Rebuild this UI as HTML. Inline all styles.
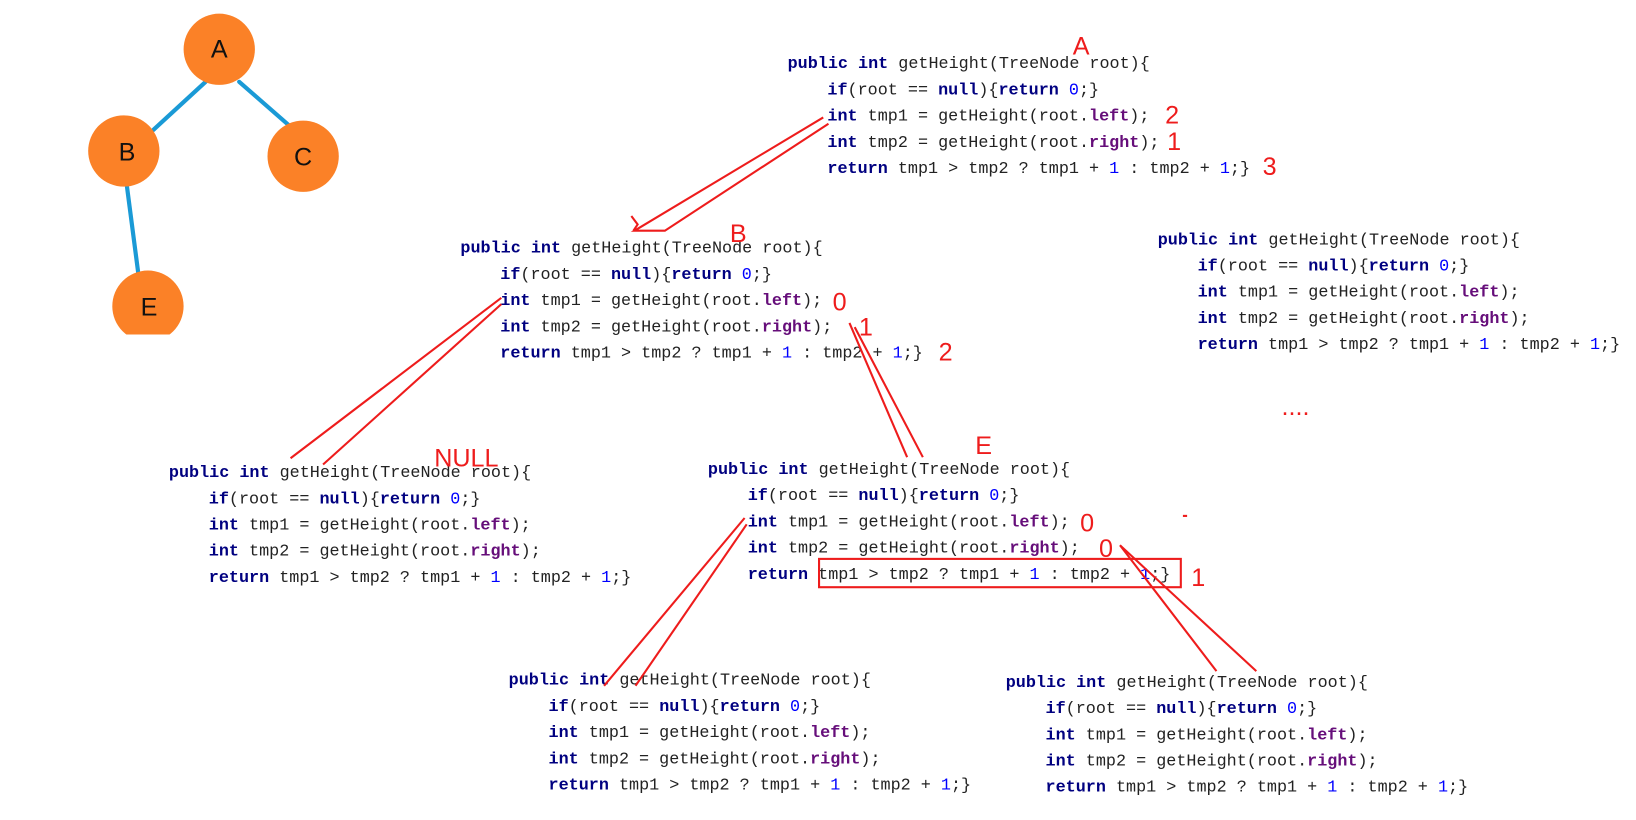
<!DOCTYPE html>
<html><head><meta charset="utf-8"><style>
html,body{margin:0;padding:0;background:#fff;}
svg{display:block}
.c{font-family:"Liberation Mono","Noto Serif CJK SC",monospace;font-size:16px;fill:#222;white-space:pre}
.k{fill:#000080;font-weight:bold}
.p{fill:#660e7a;font-weight:bold}
.n{fill:#0000ff}
.r{font-family:"Liberation Sans",sans-serif;fill:#ee1c1c;font-size:24px}
.l{stroke:#ee1c1c;stroke-width:2;fill:none}
</style></head><body>
<svg width="1636" height="820" viewBox="0 0 1560 782" xmlns="http://www.w3.org/2000/svg">
<defs>
<g id="code">
<text class="c" x="0" y="6" xml:space="preserve"><tspan class="k">public int</tspan> getHeight(TreeNode root){</text>
<text class="c" x="38" y="31" xml:space="preserve"><tspan class="k">if</tspan>(root == <tspan class="k">null</tspan>){<tspan class="k">return</tspan> <tspan class="n">0</tspan>;}</text>
<text class="c" x="38" y="56" xml:space="preserve"><tspan class="k">int</tspan> tmp1 = getHeight(root.<tspan class="p">left</tspan>);</text>
<text class="c" x="38" y="81" xml:space="preserve"><tspan class="k">int</tspan> tmp2 = getHeight(root.<tspan class="p">right</tspan>);</text>
<text class="c" x="38" y="106" xml:space="preserve"><tspan class="k">return</tspan> tmp1 &gt; tmp2 ? tmp1 + <tspan class="n">1</tspan> : tmp2 + <tspan class="n">1</tspan>;}</text>
</g>
</defs>
<!-- tree -->
<g stroke="#1a9ad6" stroke-width="4" stroke-linecap="round">
<line x1="196" y1="78" x2="146" y2="124"/>
<line x1="228" y1="78" x2="276" y2="120"/>
<line x1="121" y1="178" x2="133" y2="270"/>
</g>
<g fill="#fb8127">
<circle cx="209" cy="47" r="34"/>
<circle cx="118" cy="144" r="34"/>
<circle cx="289" cy="149" r="34"/>
<circle cx="141" cy="292" r="34"/>
</g>
<rect x="100" y="319" width="90" height="20" fill="#fff"/>
<g font-family="Liberation Sans,sans-serif" font-size="24" fill="#111" text-anchor="middle">
<text x="209" y="55">A</text><text x="121" y="153">B</text><text x="289" y="158">C</text><text x="142" y="301">E</text>
</g>
<!-- code blocks -->
<use href="#code" x="751" y="59"/>
<use href="#code" x="439" y="235"/>
<use href="#code" x="1104" y="227"/>
<use href="#code" x="161" y="449"/>
<use href="#code" x="675" y="446"/>
<use href="#code" x="485" y="647"/>
<use href="#code" x="959" y="649"/>
<!-- red annotations -->
<text class="r" x="1023" y="52">A</text>
<text class="r" x="1111" y="118">2</text>
<text class="r" x="1113" y="143">1</text>
<text class="r" x="1204" y="167">3</text>
<text class="r" x="696" y="231">B</text>
<text class="r" x="794" y="296">0</text>
<text class="r" x="819" y="320">1</text>
<text class="r" x="895" y="344">2</text>
<text class="r" x="414" y="445">NULL</text>
<text class="r" x="930" y="433">E</text>
<text class="r" x="1030" y="507">0</text>
<text class="r" x="1048" y="531">0</text>
<text class="r" x="1136" y="559">1</text>
<text class="r" x="1222" y="396">....</text>
<rect x="1128" y="491" width="4" height="2" fill="#ee1c1c"/>
<rect x="781" y="533" width="345" height="27" class="l" stroke-width="2.5"/>
<polyline class="l" points="785,112 605,220 634,220 790,118"/>
<polyline class="l" points="602,206 608,214 604,220"/>
<polyline class="l" points="478,284 277,437"/>
<polyline class="l" points="478,290 308,443"/>
<polyline class="l" points="810,308 865,436"/>
<polyline class="l" points="815,312 880,436"/>
<polyline class="l" points="710,494 576,654"/>
<polyline class="l" points="712,500 606,654"/>
<polyline class="l" points="1068,520 1160,640"/>
<polyline class="l" points="1068,520 1198,640"/>
</svg>
</body></html>
